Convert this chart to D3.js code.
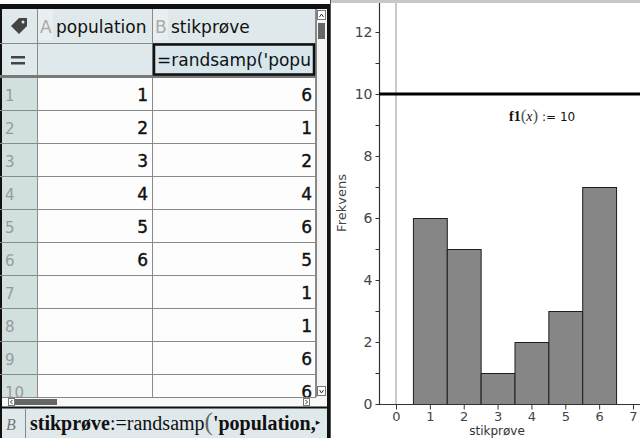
<!DOCTYPE html>
<html><head><meta charset="utf-8">
<script src="https://cdn.jsdelivr.net/npm/d3@7"></script>
<style>html,body{margin:0;padding:0;background:#fff;overflow:hidden}</style>
</head><body>
<script>
// ---- data ----
const populationCol = [1, 2, 3, 4, 5, 6];
const sampleCol = [6, 1, 2, 4, 6, 5, 1, 1, 6, 6];
const rowLabels = [1, 2, 3, 4, 5, 6, 7, 8, 9, 10];
const histValues = [1, 2, 3, 4, 5, 6];
const histCounts = [6, 5, 1, 2, 3, 7];
const xTickValues = [0, 1, 2, 3, 4, 5, 6, 7];
const yTickValues = [0, 1, 2, 3, 4, 5, 6, 7, 8, 9, 10, 11, 12];
const f1Value = 10;

const W = 640, H = 438;
const svg = d3.select("body").append("svg").attr("width", W).attr("height", H)
  .style("font-family", "'DejaVu Sans', sans-serif");

// ================= Left: spreadsheet =================
const L = svg.append("g");
const headTop = 9, headBot = 43, formBot = 77, rowH = 33;
L.append("rect").attr("x", 0).attr("y", 0).attr("width", 329).attr("height", H).attr("fill", "#fdfdfd");
L.append("rect").attr("x", 0).attr("y", headTop).attr("width", 316).attr("height", formBot - headTop).attr("fill", "#dfe8ea");
L.append("rect").attr("x", 0).attr("y", formBot).attr("width", 38).attr("height", 397 - formBot).attr("fill", "#d2dfdf");
L.append("rect").attr("x", 0).attr("y", 4).attr("width", 330).attr("height", 5).attr("fill", "#111");
L.append("rect").attr("x", 0).attr("y", 4).attr("width", 2).attr("height", H).attr("fill", "#111");
L.append("rect").attr("x", 327).attr("y", 4).attr("width", 3).attr("height", H).attr("fill", "#111");
L.append("rect").attr("x", 38).attr("y", headTop).attr("width", 15).attr("height", 31).attr("fill", "#e9eff0");
L.append("rect").attr("x", 153).attr("y", headTop).attr("width", 15).attr("height", 31).attr("fill", "#e9eff0");
// tag icon
L.append("path").attr("d", "M11,26 L19,18 L27,18 L27,26 L19,34 Z").attr("fill", "#444");
L.append("circle").attr("cx", 23).attr("cy", 22).attr("r", 1.5).attr("fill", "#dfe8ea");
// '=' sign
L.append("rect").attr("x", 11).attr("y", 56).attr("width", 14).attr("height", 2.5).attr("fill", "#444");
L.append("rect").attr("x", 11).attr("y", 62).attr("width", 14).attr("height", 2.5).attr("fill", "#444");

// grid lines
const gridG = L.append("g").attr("stroke", "#8a8a8a").attr("stroke-width", 1);
[37.5, 152.5].forEach(x => gridG.append("line").attr("x1", x).attr("x2", x).attr("y1", headTop).attr("y2", 397));
gridG.append("line").attr("x1", 315.5).attr("x2", 315.5).attr("y1", headTop).attr("y2", 397);
gridG.append("line").attr("x1", 0).attr("x2", 316).attr("y1", headBot + 0.5).attr("y2", headBot + 0.5);
L.append("rect").attr("x", 0).attr("y", formBot - 2).attr("width", 316).attr("height", 3).attr("fill", "#7a7a7a");
rowLabels.forEach((r, i) => {
  const yb = formBot + (i + 1) * rowH + 0.5;
  if (yb < 397) gridG.append("line").attr("x1", 0).attr("x2", 316).attr("y1", yb).attr("y2", yb);
});
// header text
L.append("text").attr("x", 40).attr("y", 33).attr("font-size", 17).attr("fill", "#aaa").text("A");
L.append("text").attr("x", 56).attr("y", 33).attr("font-size", 17).attr("fill", "#111").text("population");
L.append("text").attr("x", 155).attr("y", 33).attr("font-size", 17).attr("fill", "#aaa").text("B");
L.append("text").attr("x", 171).attr("y", 33).attr("font-size", 17).attr("fill", "#111").text("stikprøve");
// formula cell
L.append("clipPath").attr("id", "fc").append("rect").attr("x", 153).attr("y", 44).attr("width", 161).attr("height", 32);
L.append("rect").attr("x", 154).attr("y", 44.5).attr("width", 160).attr("height", 30).attr("fill", "#d6e6ec")
  .attr("stroke", "#111").attr("stroke-width", 2.5);
L.append("text").attr("clip-path", "url(#fc)").attr("x", 157).attr("y", 66).attr("font-size", 17).attr("fill", "#111").text("=randsamp('popu");

// row labels and values
L.append("clipPath").attr("id", "cells").append("rect").attr("x", 0).attr("y", formBot).attr("width", 316).attr("height", 397 - formBot);
const cells = L.append("g").attr("clip-path", "url(#cells)");
rowLabels.forEach((r, i) => {
  const yc = formBot + i * rowH + rowH / 2 + 1;
  cells.append("text").attr("x", 5).attr("y", yc + 6).attr("font-size", 15).attr("fill", "#9a9a9a").text(r);
  if (i < populationCol.length)
    cells.append("text").attr("x", 148).attr("y", yc + 6).attr("text-anchor", "end").attr("font-size", 17)
      .attr("stroke", "#111").attr("stroke-width", 0.4).attr("fill", "#111").text(populationCol[i]);
  if (i < sampleCol.length)
    cells.append("text").attr("x", 312).attr("y", yc + 6).attr("text-anchor", "end").attr("font-size", 17)
      .attr("stroke", "#111").attr("stroke-width", 0.4).attr("fill", "#111").text(sampleCol[i]);
});

// vertical scrollbar
L.append("rect").attr("x", 316).attr("y", headTop).attr("width", 11).attr("height", 388).attr("fill", "#f4f4f4");
L.append("line").attr("x1", 316.5).attr("x2", 316.5).attr("y1", headTop).attr("y2", 397).attr("stroke", "#888");
L.append("rect").attr("x", 317.5).attr("y", 10.5).attr("width", 8).attr("height", 9).attr("fill", "#fff").attr("stroke", "#777");
L.append("path").attr("d", "M319.5,17 L321.5,14 L323.5,17").attr("fill", "none").attr("stroke", "#333");
L.append("rect").attr("x", 318).attr("y", 23).attr("width", 7).attr("height", 16).attr("fill", "#666");
L.append("rect").attr("x", 317.5).attr("y", 386.5).attr("width", 8).attr("height", 9).attr("fill", "#fff").attr("stroke", "#777");
L.append("path").attr("d", "M319.5,390 L321.5,393 L323.5,390").attr("fill", "none").attr("stroke", "#333");
// horizontal scrollbar
L.append("rect").attr("x", 2).attr("y", 397).attr("width", 325).attr("height", 10).attr("fill", "#f8f8f8");
L.append("line").attr("x1", 2).attr("x2", 316).attr("y1", 397.5).attr("y2", 397.5).attr("stroke", "#888");
L.append("rect").attr("x", 8.5).attr("y", 398.5).attr("width", 6).attr("height", 7).attr("fill", "#fff").attr("stroke", "#777");
L.append("path").attr("d", "M12.5,400 L10.5,402 L12.5,404").attr("fill", "none").attr("stroke", "#333");
L.append("rect").attr("x", 15).attr("y", 399).attr("width", 42).attr("height", 6).attr("fill", "#666");
L.append("rect").attr("x", 303.5).attr("y", 398.5).attr("width", 6).attr("height", 7).attr("fill", "#fff").attr("stroke", "#777");
L.append("path").attr("d", "M305.5,400 L307.5,402 L305.5,404").attr("fill", "none").attr("stroke", "#333");
// bottom formula bar
L.append("rect").attr("x", 2).attr("y", 407).attr("width", 325).attr("height", 31).attr("fill", "#dfe8ea");
L.append("line").attr("x1", 2).attr("x2", 327).attr("y1", 407.5).attr("y2", 407.5).attr("stroke", "#111").attr("stroke-width", 2);
L.append("line").attr("x1", 25.5).attr("x2", 25.5).attr("y1", 408).attr("y2", 438).attr("stroke", "#888");
L.append("text").attr("x", 6).attr("y", 430).attr("font-size", 16).attr("font-style", "italic").attr("fill", "#777")
  .attr("font-family", "'Liberation Serif', serif").text("B");
const ft = L.append("text").attr("x", 30).attr("y", 430).attr("font-size", 20)
  .attr("font-family", "'Liberation Serif', 'DejaVu Serif', serif").attr("fill", "#111");
ft.append("tspan").attr("font-weight", "bold").text("stikprøve");
ft.append("tspan").text(":=randsamp");
ft.append("tspan").attr("font-size", 25).attr("fill", "#666").text("(");
ft.append("tspan").attr("font-weight", "bold").text("'population,");
ft.append("tspan").attr("font-size", 9).attr("dy", -5).text("▸");

// ================= Right: histogram =================
const R = svg.append("g");
R.append("rect").attr("x", 330).attr("y", 0).attr("width", 310).attr("height", 3).attr("fill", "#c8c8c8");
R.append("line").attr("x1", 330.5).attr("x2", 330.5).attr("y1", 0).attr("y2", H).attr("stroke", "#555").attr("stroke-width", 1);

const x = d3.scaleLinear().domain([0, 7]).range([396, 633]);
const y = d3.scaleLinear().domain([0, 12]).range([404, 32]);

R.append("line").attr("x1", x(0)).attr("x2", x(0)).attr("y1", 3).attr("y2", y(0))
  .attr("stroke", "#b8b8b8").attr("stroke-width", 1.5);

// bars
R.append("g").selectAll("rect").data(histValues).join("rect")
  .attr("x", d => x(d - 0.5) + 0.5)
  .attr("y", (d, i) => y(histCounts[i]) + 0.5)
  .attr("width", d => x(d + 0.5) - x(d - 0.5))
  .attr("height", (d, i) => y(0) - y(histCounts[i]))
  .attr("fill", "#868686").attr("stroke", "#1e1e1e").attr("stroke-width", 1);

// y axis
const yAxis = d3.axisLeft(y).tickValues(yTickValues).tickSize(4)
  .tickFormat(d => d % 2 === 0 ? d : "");
const ya = R.append("g").attr("transform", "translate(379.5,0)").call(yAxis);
ya.select(".domain").remove();
ya.selectAll("line").attr("stroke", "#333");
ya.selectAll("text").attr("font-size", 14).attr("fill", "#444").attr("font-family", "'DejaVu Sans', sans-serif");
R.append("line").attr("x1", 379.5).attr("x2", 379.5).attr("y1", 3).attr("y2", y(0)).attr("stroke", "#333").attr("stroke-width", 1.2);

// x axis
const xAxis = d3.axisBottom(x).tickValues(xTickValues).tickSize(5).tickPadding(2).tickFormat(d3.format("d"));
const xa = R.append("g").attr("transform", `translate(0,${y(0) + 0.5})`).call(xAxis);
xa.select(".domain").remove();
xa.selectAll("line").attr("stroke", "#333");
xa.selectAll("text").attr("font-size", 13).attr("fill", "#444").attr("dy", "0.75em").attr("font-family", "'DejaVu Sans', sans-serif");
R.append("line").attr("x1", 379).attr("x2", 640).attr("y1", y(0) + 0.5).attr("y2", y(0) + 0.5).attr("stroke", "#333").attr("stroke-width", 1.2);

// f1(x) = 10 line
R.append("line").attr("x1", 379).attr("x2", 640).attr("y1", y(f1Value)).attr("y2", y(f1Value))
  .attr("stroke", "#000").attr("stroke-width", 3);
const fl = R.append("text").attr("x", 509).attr("y", y(f1Value) + 27).attr("font-size", 13).attr("fill", "#111");
fl.append("tspan").attr("font-family", "'Liberation Serif', serif").attr("font-weight", "bold").attr("font-size", 14).text("f1");
fl.append("tspan").attr("font-family", "'Liberation Serif', serif").attr("font-size", 17).attr("fill", "#555").text("(");
fl.append("tspan").attr("font-family", "'Liberation Serif', serif").attr("font-style", "italic").attr("font-size", 14).text("x");
fl.append("tspan").attr("font-family", "'Liberation Serif', serif").attr("font-size", 17).attr("fill", "#555").text(")");
fl.append("tspan").attr("font-family", "'DejaVu Sans', sans-serif").attr("font-size", 12).text(" := " + f1Value);

// axis titles
R.append("text").attr("transform", "translate(346,203) rotate(-90)").attr("text-anchor", "middle")
  .attr("font-size", 13).attr("fill", "#444").text("Frekvens");
R.append("text").attr("x", 497).attr("y", 435).attr("text-anchor", "middle")
  .attr("font-size", 12).attr("fill", "#333").text("stikprøve");
</script>
</body></html>
